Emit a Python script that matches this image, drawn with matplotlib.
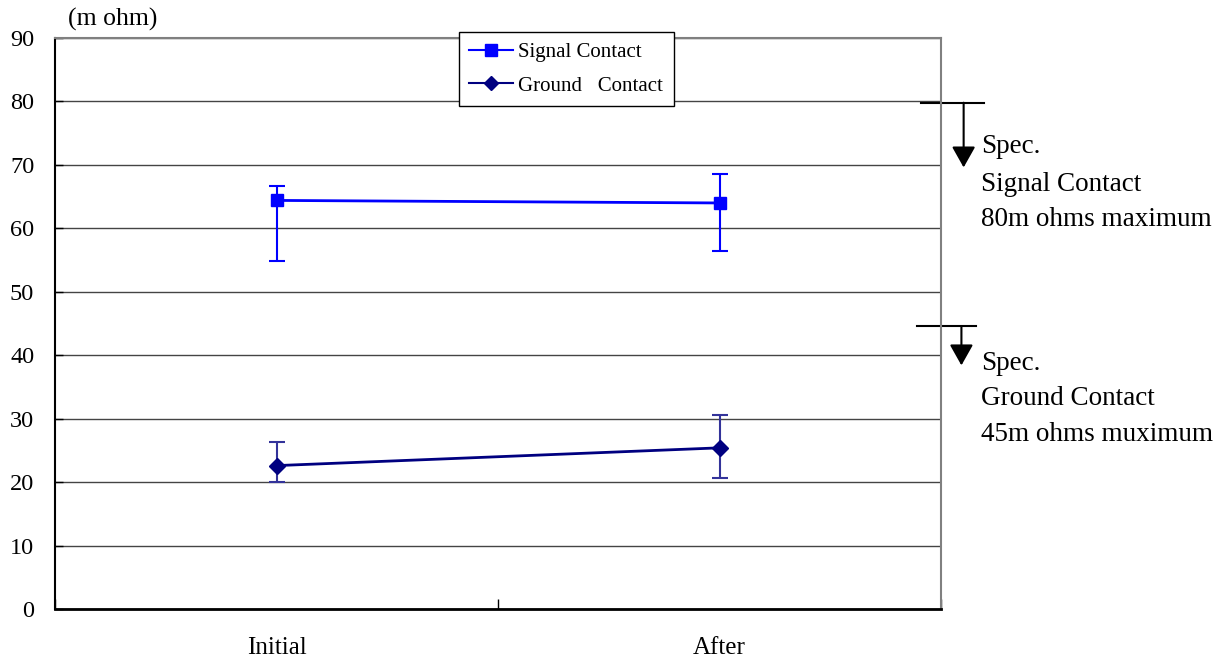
import numpy as np
import matplotlib
matplotlib.use('Agg')
import matplotlib.pyplot as plt
from matplotlib.lines import Line2D

plt.rcParams['font.family'] = ['Liberation Serif', 'DejaVu Serif']

categories = ['Initial', 'After']
signal_mean = [64.4, 64.0]
signal_max = [66.7, 68.5]
signal_min = [54.8, 56.5]
ground_mean = [22.6, 25.4]
ground_max = [26.3, 30.5]
ground_min = [20.0, 20.7]
y_ticks = [0, 10, 20, 30, 40, 50, 60, 70, 80, 90]
signal_spec = 80
ground_spec = 45
signal_note = ['Spec.', 'Signal Contact', '80m ohms maximum']
ground_note = ['Spec.', 'Ground Contact', '45m ohms muximum']

fig = plt.figure(figsize=(12.29, 6.61), dpi=100)
ax = fig.add_axes([0.0448, 0.0787, 0.7209, 0.8638])

x = np.arange(len(categories))

sig_err = [np.array(signal_mean) - np.array(signal_min), np.array(signal_max) - np.array(signal_mean)]
gnd_err = [np.array(ground_mean) - np.array(ground_min), np.array(ground_max) - np.array(ground_mean)]

ax.errorbar(x, signal_mean, yerr=sig_err, color='#0000ff', lw=2, marker='s', ms=9,
            ecolor='#0000ff', elinewidth=1.5, capsize=6, capthick=1.5, zorder=3)
ax.errorbar(x, ground_mean, yerr=gnd_err, color='#000080', lw=2, marker='D', ms=8,
            ecolor='#33339a', elinewidth=1.5, capsize=6, capthick=1.5, zorder=3)

ax.set_xlim(-0.5, 1.5)
ax.set_ylim(0, 90)
ax.set_yticks(y_ticks)
ax.set_yticklabels([str(v) for v in y_ticks], fontsize=17.5)
ax.tick_params(axis='y', direction='in', length=6, pad=15, width=1)
ax.set_xticks(x)
ax.set_xticklabels(categories, fontsize=18)
ax.tick_params(axis='x', which='major', length=0, pad=20)
ax.set_xticks([-0.5, 0.5, 1.5], minor=True)
ax.tick_params(axis='x', which='minor', direction='in', length=7, width=1)

ax.grid(axis='y', color='#444444', lw=1)
ax.set_axisbelow(True)
for s in ['top', 'right']:
    ax.spines[s].set_color('#808080')
    ax.spines[s].set_linewidth(1.5)
ax.spines['left'].set_linewidth(1.5)
ax.spines['bottom'].set_linewidth(2)

ax.text(0.015, 1.012, '(m ohm)', transform=ax.transAxes, fontsize=18.5, ha='left', va='bottom')

handles = [Line2D([], [], color='#0000ff', lw=1.5, marker='s', ms=9),
           Line2D([], [], color='#000080', lw=1.5, marker='D', ms=7)]
leg = fig.legend(handles, ['Signal Contact', 'Ground   Contact'], loc='upper left',
                 bbox_to_anchor=(459 / 1229, 1 - 32 / 661), fontsize=15, frameon=True,
                 fancybox=False, framealpha=1, edgecolor='black', handlelength=2.1,
                 borderpad=0.5, labelspacing=0.68, handletextpad=0.25, borderaxespad=0)
leg.get_frame().set_linewidth(1)

# spec markers on the right
arrow = dict(arrowstyle='-|>,head_length=0.8,head_width=0.45', color='black',
             lw=1.5, mutation_scale=16, shrinkA=0, shrinkB=0)

ax.plot([1.454, 1.596], [signal_spec - 0.2, signal_spec - 0.2], color='black', lw=1.5, clip_on=False)
ax.annotate('', xy=(1.551, 69.6), xytext=(1.551, signal_spec - 0.2), annotation_clip=False,
            arrowprops=arrow)
for yv, line in zip([71.84, 65.84, 60.32], signal_note):
    ax.text(1.59, yv, line, fontsize=19.5, ha='left', va='baseline', clip_on=False)

ax.plot([1.445, 1.580], [ground_spec - 0.4, ground_spec - 0.4], color='black', lw=1.5, clip_on=False)
ax.annotate('', xy=(1.546, 38.4), xytext=(1.546, ground_spec - 0.4), annotation_clip=False,
            arrowprops=arrow)
for yv, line in zip([37.74, 32.21, 26.53], ground_note):
    ax.text(1.59, yv, line, fontsize=19.5, ha='left', va='baseline', clip_on=False)

fig.savefig('out.png', dpi=100)
